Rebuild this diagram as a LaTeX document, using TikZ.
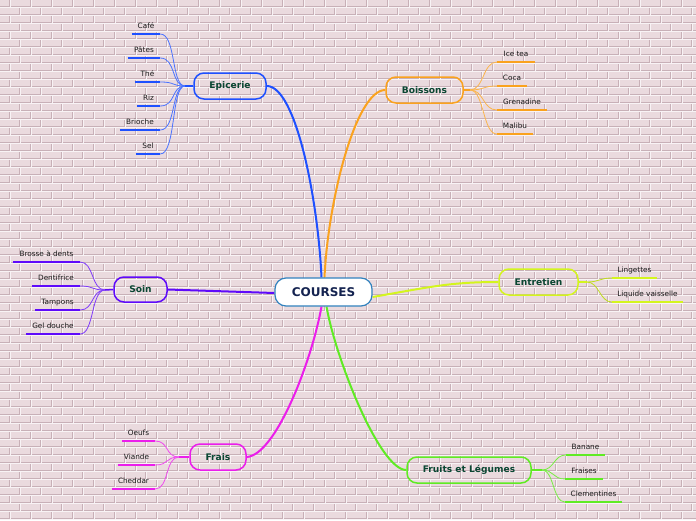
\documentclass[tikz,border=0pt]{standalone}
\usepackage{fontspec}
\setmainfont{DejaVu Sans}
\pgfdeclarelayer{bg}
\pgfdeclarelayer{edges}
\pgfsetlayers{bg,edges,main}
\definecolor{brickface}{RGB}{234,218,222}
\definecolor{brickmortar}{RGB}{248,243,245}
\definecolor{brickshadow}{RGB}{200,176,183}
\definecolor{cblue}{RGB}{30,80,255}
\definecolor{corange}{RGB}{250,162,30}
\definecolor{cpurple}{RGB}{95,10,250}
\definecolor{cyellow}{RGB}{212,245,30}
\definecolor{cmagenta}{RGB}{235,30,235}
\definecolor{cgreen}{RGB}{95,235,35}
\definecolor{ntext}{RGB}{10,70,50}
\definecolor{rtext}{RGB}{20,35,80}
\definecolor{rborder}{RGB}{50,130,190}
\definecolor{ltext}{RGB}{25,25,25}
\tikzset{
  root/.style={draw=rborder, line width=1.2pt, fill=white, rounded corners=11pt,
    minimum width=97pt, minimum height=28pt, inner sep=0pt, text=rtext,
    font=\fontsize{12}{14}\selectfont\bfseries},
  branch/.style={draw=#1, line width=1.5pt, rounded corners=10pt,
    minimum height=26pt, inner sep=0pt, text=ntext,
    font=\fontsize{9.1}{11}\selectfont\bfseries},
  leaf/.style={anchor=south, inner xsep=0pt, inner ysep=3.5pt, text height=6pt, text depth=2pt,
    text=ltext, font=\fontsize{7.3}{9}\selectfont},
  uline/.style={line width=2pt, #1},
  thin/.style={line width=0.8pt, #1},
  mainline/.style={line width=2pt, #1},
}
\begin{document}
\begin{tikzpicture}[x=1pt,y=-1pt]
\useasboundingbox (0,0) rectangle (696,520);
\begin{pgfonlayer}{bg}
  \fill[brickface] (0,0) rectangle (696,520);
  \draw[brickshadow, line width=0.8pt] \foreach \r in {1,...,65} { (0,{8*\r-1.4}) -- (696,{8*\r-1.4}) };
  \draw[brickmortar, line width=0.8pt] \foreach \r in {0,...,65} { (0,{8*\r-0.5}) -- (696,{8*\r-0.5}) };
  \draw[brickshadow, line width=0.7pt] \foreach \r in {0,...,64} { \foreach \c in {-1,...,33} { ({21*\c+mod(\r,2)*10.5+9.2}, {8*\r}) -- ++(0,7) } };
  \draw[brickmortar, line width=0.8pt] \foreach \r in {0,...,64} { \foreach \c in {-1,...,33} { ({21*\c+mod(\r,2)*10.5+10}, {8*\r}) -- ++(0,7) } };
\end{pgfonlayer}

% central and branch nodes
\node[root] (courses) at (323.5,292) {COURSES};
\node[branch=cblue, minimum width=72pt] (epicerie) at (230,86) {Epicerie};
\node[branch=corange, minimum width=77pt] (boissons) at (424.5,90) {Boissons};
\node[branch=cpurple, minimum width=53pt, minimum height=25pt] (soin) at (140.5,289.5) {Soin};
\node[branch=cyellow, minimum width=79pt] (entretien) at (538.5,282) {Entretien};
\node[branch=cmagenta, minimum width=56pt] (frais) at (218,457) {Frais};
\node[branch=cgreen, minimum width=124pt] (fruits) at (469,470) {Fruits et Légumes};

% converge points
\coordinate (cE) at (185,86);
\coordinate (cB) at (470,90);
\coordinate (cS) at (105,290);
\coordinate (cN) at (587,282);
\coordinate (cF) at (179,457);
\coordinate (cG) at (542,470);

% leaves
\node[leaf, minimum width=28pt] (cafe) at (146,34) {Café};
\node[leaf, minimum width=32pt] (pates) at (144,58) {Pâtes};
\node[leaf, minimum width=25pt] (the) at (147.5,82) {Thé};
\node[leaf, minimum width=23pt] (riz) at (148.5,106) {Riz};
\node[leaf, minimum width=40pt] (brioche) at (140,130) {Brioche};
\node[leaf, minimum width=24pt] (sel) at (148,154) {Sel};

\node[leaf, minimum width=38pt] (icetea) at (516,62) {Ice tea};
\node[leaf, minimum width=30pt] (coca) at (512,86) {Coca};
\node[leaf, minimum width=50pt] (grenadine) at (522,110) {Grenadine};
\node[leaf, minimum width=36pt] (malibu) at (515,134) {Malibu};

\node[leaf, minimum width=67pt] (brosse) at (46.5,262) {Brosse à dents};
\node[leaf, minimum width=48pt] (dentifrice) at (56,286) {Dentifrice};
\node[leaf, minimum width=45pt] (tampons) at (57.5,310) {Tampons};
\node[leaf, minimum width=54pt] (gel) at (53,334) {Gel douche};

\node[leaf, minimum width=45pt] (lingettes) at (634.5,278) {Lingettes};
\node[leaf, minimum width=71pt] (liquide) at (647.5,302) {Liquide vaisselle};

\node[leaf, minimum width=33pt] (oeufs) at (138.5,441) {Oeufs};
\node[leaf, minimum width=37pt] (viande) at (136.5,465) {Viande};
\node[leaf, minimum width=43pt] (cheddar) at (133.5,489) {Cheddar};

\node[leaf, minimum width=39pt] (banane) at (585.5,455) {Banane};
\node[leaf, minimum width=38pt] (fraises) at (584,479) {Fraises};
\node[leaf, minimum width=57pt] (clementines) at (593.5,502) {Clementines};

\begin{pgfonlayer}{edges}
  % main branches
  \draw[mainline=cblue] (epicerie.east) .. controls (296,86) and (318,200) .. ([xshift=-2pt]courses.north);
  \draw[mainline=corange] (boissons.west) .. controls (356,90) and (328,200) .. ([xshift=1pt]courses.north);
  \draw[mainline=cyellow] ([yshift=-5pt]courses.east) .. controls (430,287) and (450,282) .. (entretien.west);
  \draw[mainline=cpurple] (soin.east) -- ([yshift=-1pt]courses.west);
  \draw[mainline=cmagenta] (frais.east) .. controls (276,455) and (312,360) .. ([xshift=-2pt]courses.south);
  \draw[mainline=cgreen] (fruits.west) .. controls (380,470) and (336,360) .. ([xshift=3pt]courses.south);

  % stubs
  \draw[line width=1.5pt, cblue] (epicerie.west) -- (cE);
  \draw[line width=1.5pt, corange] (boissons.east) -- (cB);
  \draw[line width=1.5pt, cpurple] (soin.west) -- (cS);
  \draw[line width=1.5pt, cyellow] (entretien.east) -- (cN);
  \draw[line width=1.5pt, cmagenta] (frais.west) -- (cF);
  \draw[line width=1.5pt, cgreen] (fruits.east) -- (cG);

  % leaf connectors and underlines (left side)
  \foreach \n in {cafe,pates,the,riz,brioche,sel} {
    \draw[thin=cblue!80] (cE) .. controls +(-14,0) and +(16,0) .. (\n.south east);
    \draw[uline=cblue] (\n.south west) -- (\n.south east);
  }
  \foreach \n in {brosse,dentifrice,tampons,gel} {
    \draw[thin=cpurple!80] (cS) .. controls +(-14,0) and +(14,0) .. (\n.south east);
    \draw[uline=cpurple] (\n.south west) -- (\n.south east);
  }
  \foreach \n in {oeufs,viande,cheddar} {
    \draw[thin=cmagenta!80] (cF) .. controls +(-14,0) and +(14,0) .. (\n.south east);
    \draw[uline=cmagenta] (\n.south west) -- (\n.south east);
  }
  % right side
  \foreach \n in {icetea,coca,grenadine,malibu} {
    \draw[thin=corange!80] (cB) .. controls +(14,0) and +(-14,0) .. (\n.south west);
    \draw[uline=corange] (\n.south west) -- (\n.south east);
  }
  \foreach \n in {lingettes,liquide} {
    \draw[thin=cyellow!90!black] (cN) .. controls +(12,0) and +(-12,0) .. (\n.south west);
    \draw[uline=cyellow] (\n.south west) -- (\n.south east);
  }
  \foreach \n in {banane,fraises,clementines} {
    \draw[thin=cgreen!85] (cG) .. controls +(12,0) and +(-12,0) .. (\n.south west);
    \draw[uline=cgreen] (\n.south west) -- (\n.south east);
  }
\end{pgfonlayer}
\end{tikzpicture}
\end{document}
